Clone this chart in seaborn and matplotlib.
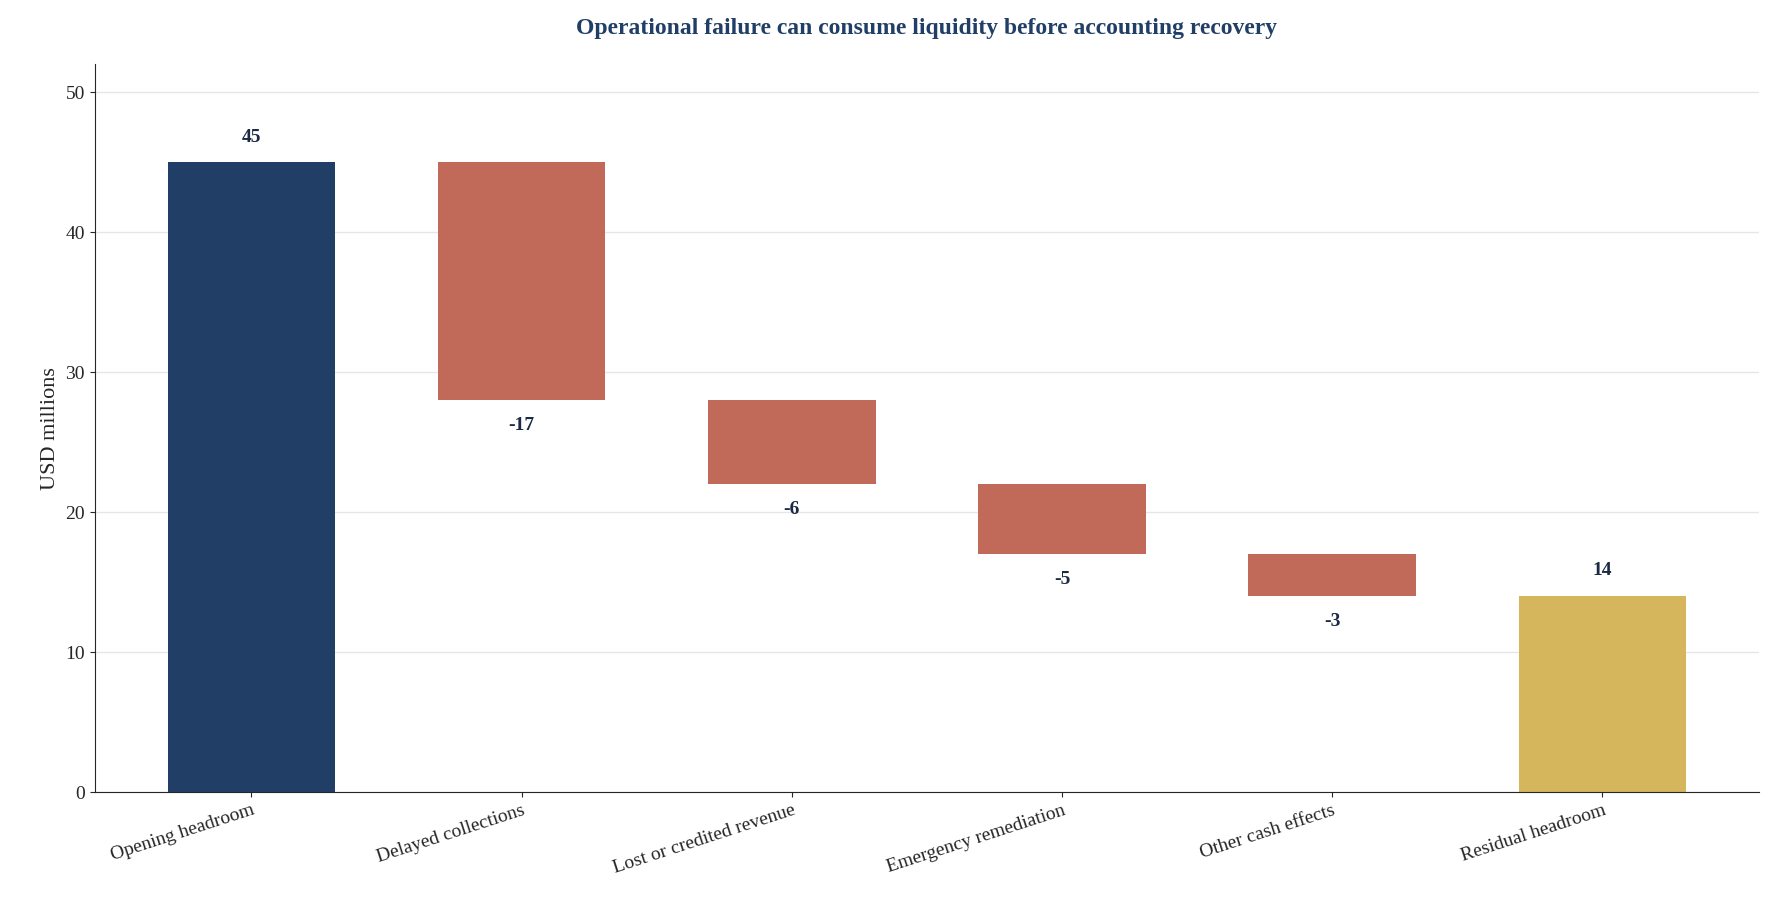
import matplotlib.pyplot as plt
import seaborn as sns

# Data
steps = ['Opening headroom', 'Delayed collections', 'Lost or credited revenue',
         'Emergency remediation', 'Other cash effects', 'Residual headroom']
changes = [45, -17, -6, -5, -3, 14]
kinds = ['total', 'delta', 'delta', 'delta', 'delta', 'total']

# Waterfall bottoms / heights
bottoms, heights = [], []
level = 0
for c, k in zip(changes, kinds):
    if k == 'total':
        bottoms.append(0)
        heights.append(c)
        level = c
    else:
        bottoms.append(level + c)
        heights.append(-c)
        level = level + c

colors = ['#213f66', '#c26a5a', '#c26a5a', '#c26a5a', '#c26a5a', '#d6b65c']

sns.set_style('ticks')
plt.rcParams['font.family'] = ['Liberation Serif', 'DejaVu Serif']

fig, ax = plt.subplots(figsize=(17.86, 9.21), dpi=100)
x = list(range(len(steps)))
ax.bar(x, heights, bottom=bottoms, color=colors, width=0.62, linewidth=0)

for i, (c, b, h) in enumerate(zip(changes, bottoms, heights)):
    if c >= 0:
        ax.text(i, b + h + 1.2, f'{c}', ha='center', va='bottom',
                fontsize=14, fontweight='bold', color='#1a2a44')
    else:
        ax.text(i, b - 1.2, f'{c}', ha='center', va='top',
                fontsize=14, fontweight='bold', color='#1a2a44')

ax.set_xlim(-0.58, 5.58)
ax.set_ylim(0, 52)
ax.set_yticks([0, 10, 20, 30, 40, 50])
ax.set_xticks(x)
ax.set_xticklabels(steps)
ax.yaxis.grid(True, color='#e6e6e6', linewidth=1)
ax.set_axisbelow(True)
ax.set_ylabel('USD millions', fontsize=16)
ax.tick_params(axis='both', labelsize=14)
plt.setp(ax.get_xticklabels(), rotation=18, ha='right', rotation_mode='anchor')
ax.set_title('Operational failure can consume liquidity before accounting recovery',
             fontsize=17, fontweight='bold', color='#213f66', pad=22)
sns.despine(ax=ax)

fig.subplots_adjust(left=0.053, right=0.985, top=0.93, bottom=0.14)
fig.savefig('out.png', dpi=100)
